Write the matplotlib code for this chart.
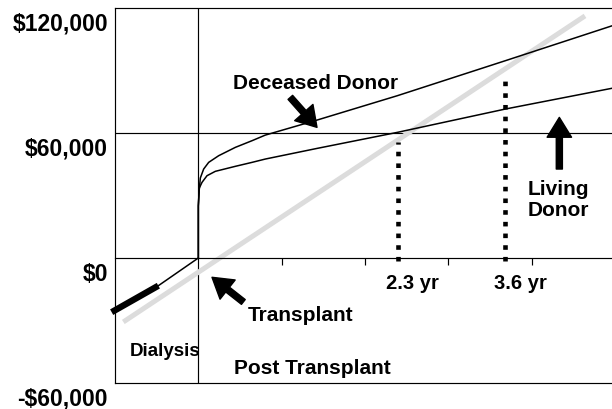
import numpy as np
import matplotlib
matplotlib.use("Agg")
import matplotlib.pyplot as plt
from matplotlib.transforms import ScaledTranslation

plt.rcParams['font.family'] = ['Liberation Sans', 'DejaVu Sans']
plt.rcParams['font.weight'] = 'bold'

# -------------------------------
# data (years after transplant, cumulative savings in $)
# -------------------------------
deceased_x = [0.0, 0.0, 0.01, 0.024, 0.064, 0.124, 0.244, 0.444, 0.644, 0.804,
              1.424, 2.388, 3.684, 4.968]
deceased_y = [0, 25000, 32500, 38400, 42700, 45900, 49100, 53100, 56300, 59000,
              66200, 77900, 94700, 111500]

living_x = [0.0, 0.0, 0.012, 0.044, 0.104, 0.204, 0.444, 0.644, 0.804,
            1.424, 2.388, 3.684, 4.968]
living_y = [0, 25000, 33600, 36300, 39500, 41600, 44000, 45900, 47500,
            52600, 60300, 71500, 81500]

dialysis_x = [-1.04, -0.48, 0.0]
dialysis_y = [-26000, -13300, 0]

gray_x = [-0.9, 4.64]
gray_y = [-30700, 116200]

breakeven_x = [2.392, 3.684]
breakeven_top = [55500, 85400]
breakeven_labels = ["2.3 yr", "3.6 yr"]

ytick_vals = [-60000, 0, 60000, 120000]
ytick_labels = [r"-\$60,000", r"\$0", r"\$60,000", r"\$120,000"]

# -------------------------------
# figure
# -------------------------------
fig = plt.figure(figsize=(6.12, 4.10), dpi=100)
ax = fig.add_axes([115 / 612, 26 / 410, 500 / 612, 375 / 410])
ax.set_xlim(-1, 5)
ax.set_ylim(-60000, 120000)

lw_frame = 0.85
for s in ax.spines.values():
    s.set_linewidth(lw_frame)
ax.spines['bottom'].set_position(('data', 0))
ax.axhline(-60000, color='black', lw=lw_frame, clip_on=False)
ax.axhline(60000, color='black', lw=lw_frame)
ax.axvline(0, color='black', lw=lw_frame)

ax.set_xticks([1, 2, 3, 4, 5])
ax.set_xticklabels([])
ax.tick_params(axis='x', direction='out', length=5, width=lw_frame)

ax.set_yticks(ytick_vals)
ax.set_yticklabels(ytick_labels, fontsize=16.5, fontweight='bold')
ax.tick_params(axis='y', length=0, pad=5)
offset = ScaledTranslation(0, -13 / 100, fig.dpi_scale_trans)
for lab in ax.get_yticklabels():
    lab.set_transform(lab.get_transform() + offset)

# lines
ax.plot(gray_x, gray_y, color='#dcdcdc', lw=3.6, solid_capstyle='butt', zorder=2)
ax.plot(dialysis_x, dialysis_y, color='black', lw=1.1, zorder=3)
ax.plot(dialysis_x[:2], dialysis_y[:2], color='black', lw=4.6,
        solid_capstyle='butt', clip_on=False, zorder=3)
ax.plot(deceased_x, deceased_y, color='black', lw=1.1, zorder=3)
ax.plot(living_x, living_y, color='black', lw=1.1, zorder=3)

for bx, top in zip(breakeven_x, breakeven_top):
    ax.plot([bx, bx], [-1300, top], color='black', lw=3.3,
            linestyle=(0, (1, 1.55)), dash_capstyle='butt', zorder=4)

# annotations
arrow = dict(arrowstyle='simple,head_length=0.65,head_width=0.8,tail_width=0.2',
             fc='black', ec='black', mutation_scale=22, shrinkA=0, shrinkB=0)

ax.annotate("", xy=(1.424, 62700), xytext=(1.104, 77100), arrowprops=arrow)
ax.annotate("", xy=(0.164, -9260), xytext=(0.54, -21100), arrowprops=arrow)
ax.annotate("", xy=(4.332, 67500), xytext=(4.332, 42700), arrowprops=arrow)

ax.text(1.404, 84000, "Deceased Donor", fontsize=15, ha='center', va='center')
ax.text(1.224, -26900, "Transplant", fontsize=15, ha='center', va='center')
ax.text(4.32, 28300, "Living\nDonor", fontsize=15, ha='center', va='center',
        linespacing=1.1)
ax.text(-0.396, -44500, "Dialysis", fontsize=13.5, ha='center', va='center')
ax.text(1.374, -52500, "Post Transplant", fontsize=15, ha='center', va='center')

for bx, lab in zip(breakeven_x, breakeven_labels):
    ax.text(bx + 0.18, -12000, lab, fontsize=14.5, ha='center', va='center')

fig.savefig("out.png", dpi=100)
